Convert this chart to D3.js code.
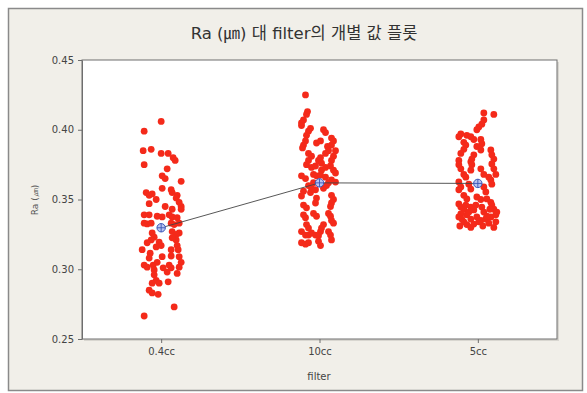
<!DOCTYPE html>
<html><head><meta charset="utf-8">
<script src="https://cdn.jsdelivr.net/npm/d3@7"></script>
<style>body{margin:0;background:#fff;}svg{display:block;}</style>
</head><body>
<script>
const categories = ["0.4cc", "10cc", "5cc"];
const yTicks = [0.25, 0.30, 0.35, 0.40, 0.45];
// [jitter (-1..1 of half spread), Ra value]
const ra04cc = [
[0,0.406],[-0.85,0.399],[-0.9,0.385],[-0.5,0.386],[0,0.383],[0.35,0.383],[0.6,0.380],[0.7,0.378],[-0.85,0.375],[0.3,0.372],
[0.05,0.367],[0.2,0.365],[1.0,0.363],[0.05,0.358],[0.5,0.357],[0.55,0.355],[-0.75,0.355],[-0.6,0.353],[-0.45,0.354],[0.8,0.353],
[0.75,0.351],[0.9,0.348],[1.0,0.345],[-0.25,0.350],[-0.6,0.347],[0.2,0.345],[0.55,0.343],[1.0,0.343],[-0.85,0.339],[-0.6,0.339],
[-0.2,0.338],[0.05,0.3375],[0.4,0.339],[0.55,0.3375],[0.8,0.337],[-0.85,0.333],[-0.7,0.3325],[-0.5,0.333],[0.5,0.333],[0.65,0.332],
[0.9,0.333],[-0.45,0.326],[-0.35,0.323],[-0.5,0.321],[-0.1,0.3195],[0,0.317],[-0.7,0.319],[0.55,0.327],[0.75,0.325],[0.9,0.326],
[0.75,0.321],[0.55,0.3225],[-0.95,0.314],[-0.55,0.3115],[0.05,0.309],[-0.25,0.316],[0.5,0.314],[0.5,0.3095],[0.8,0.317],[0.85,0.314],
[0.9,0.309],[1.0,0.305],[-0.85,0.303],[-0.7,0.3015],[-0.4,0.303],[-0.35,0.2995],[-0.35,0.296],[0.4,0.303],[0.5,0.301],[0.9,0.3015],
[0.8,0.297],[-0.25,0.292],[-0.1,0.290],[-0.45,0.290],[0.35,0.291],[-0.6,0.285],[-0.45,0.283],[-0.15,0.282],[0.65,0.273],[-0.85,0.2665],
[-0.2,0.305],[0.3,0.298],[-0.6,0.308],[0.1,0.301]
];
const ra10cc = [
[-0.7,0.425],[-0.6,0.413],[-0.65,0.411],[-0.8,0.407],[-0.9,0.405],[-0.9,0.403],[-0.45,0.401],[-0.55,0.399],[-0.65,0.396],[0.2,0.400],
[0.3,0.398],[0.6,0.394],[0.7,0.392],[0.6,0.389],[-0.7,0.392],[-0.8,0.389],[-0.85,0.387],[-0.15,0.3905],[0.05,0.392],[0.4,0.388],
[0.45,0.385],[0.3,0.383],[-0.55,0.383],[-0.4,0.381],[0.8,0.385],[0.7,0.381],[0.6,0.378],[0.05,0.380],[-0.05,0.378],[0.1,0.376],
[-0.55,0.378],[-0.65,0.375],[-0.4,0.373],[-0.2,0.374],[0.1,0.371],[0.3,0.373],[0.55,0.374],[0.7,0.371],[0.8,0.369],[-0.3,0.368],
[-0.15,0.367],[0.05,0.3675],[-0.9,0.367],[-0.7,0.365],[0.6,0.364],[0.45,0.362],[0.8,0.3625],[-0.55,0.360],[-0.4,0.358],[-0.2,0.357],
[-0.45,0.355],[0.2,0.358],[0.35,0.360],[-0.8,0.356],[-0.9,0.3525],[-0.15,0.351],[-0.2,0.3475],[0.6,0.353],[0.7,0.350],[0.6,0.3475],
[0.55,0.345],[-0.8,0.346],[-0.65,0.344],[-0.8,0.339],[-0.7,0.337],[-0.3,0.340],[-0.15,0.338],[0.45,0.340],[0.55,0.338],[0.6,0.335],
[0.7,0.333],[-0.65,0.332],[-0.55,0.3295],[0.2,0.332],[0.1,0.3295],[0.05,0.327],[-0.9,0.327],[-0.7,0.3245],[-0.55,0.3245],[-0.4,0.326],
[-0.2,0.3245],[-0.05,0.324],[0.45,0.327],[0.55,0.3245],[0.6,0.321],[-0.9,0.319],[-0.7,0.318],[-0.55,0.319],[-0.05,0.320],[0.05,0.317],
[0.3,0.366],[-0.3,0.362]
];
const ra5cc = [
[0.3,0.412],[0.8,0.411],[0.3,0.407],[0.2,0.404],[0.05,0.402],[-0.05,0.400],[-0.85,0.397],[-0.95,0.395],[-0.55,0.396],[-0.35,0.395],
[-0.2,0.393],[0.15,0.393],[0.2,0.390],[-0.7,0.391],[-0.6,0.389],[-0.7,0.386],[-0.05,0.388],[0.15,0.3855],[0.65,0.3855],[0.7,0.382],
[0.8,0.379],[-0.2,0.382],[-0.3,0.379],[-0.35,0.377],[-0.85,0.383],[-0.95,0.378],[-0.95,0.375],[-0.85,0.372],[0.7,0.3755],[0.8,0.372],
[0.9,0.368],[-0.3,0.375],[-0.35,0.371],[-0.7,0.368],[-0.6,0.366],[0.15,0.372],[0.3,0.368],[0.55,0.366],[0.65,0.364],[-0.95,0.3626],
[-0.85,0.359],[-0.95,0.357],[-0.45,0.361],[-0.35,0.3575],[0.3,0.359],[0.4,0.3554],[0.7,0.361],[-0.7,0.353],[-0.55,0.3504],[-0.05,0.3518],
[0.15,0.350],[-0.95,0.3468],[-0.85,0.3446],[-0.7,0.343],[0.45,0.3504],[0.65,0.348],[0.7,0.346],[0.8,0.343],[-0.35,0.3446],[-0.2,0.3425],
[0.2,0.3446],[0.3,0.341],[-0.85,0.3396],[-0.95,0.3375],[-0.8,0.336],[-0.55,0.339],[-0.35,0.336],[-0.05,0.3375],[0.15,0.335],[0.4,0.336],
[0.65,0.3375],[0.9,0.339],[0.95,0.341],[-0.7,0.334],[-0.55,0.332],[-0.35,0.330],[-0.2,0.3324],[0.8,0.330],
[0.55,0.333],[0.25,0.331],[-0.9,0.331],[0.05,0.334],[0.9,0.334],[-0.45,0.341],[0.6,0.343],[-0.1,0.346],[0.45,0.338],[-0.6,0.346]
];
const seriesValues = [ra04cc, ra10cc, ra5cc];

const W = 587, H = 393;
const svg = d3.select("body").append("svg").attr("width", W).attr("height", H);
const font = "'DejaVu Sans', Verdana, sans-serif";

// outer frame
svg.append("rect").attr("x", 8.5).attr("y", 8.5).attr("width", 574).attr("height", 382)
  .attr("fill", "#f1efe9").attr("stroke", "#8a8a8a").attr("stroke-width", 1.5);

const m = {l: 82, r: 557, t: 60, b: 339};
// plot area
svg.append("rect").attr("x", m.l + 2).attr("y", m.t + 2).attr("width", m.r - m.l).attr("height", m.b - m.t)
  .attr("fill", "#d8d6d0");
svg.append("rect").attr("x", m.l).attr("y", m.t).attr("width", m.r - m.l).attr("height", m.b - m.t)
  .attr("fill", "#ffffff").attr("stroke", "#6e6e6e").attr("stroke-width", 1);

const x = d3.scalePoint().domain(categories).range([m.l, m.r]).padding(0.5);
const y = d3.scaleLinear().domain([0.25, 0.45]).range([m.b, m.t]);
const spread = 20;

// y axis
const yAx = svg.append("g").attr("transform", `translate(${m.l},0)`)
  .call(d3.axisLeft(y).tickValues(yTicks).tickFormat(d3.format(".2f")).tickSize(4).tickSizeOuter(0));
yAx.select(".domain").attr("stroke", "#6e6e6e");
yAx.selectAll("line").attr("stroke", "#6e6e6e");
yAx.selectAll("text").attr("font-family", font).attr("font-size", 10).attr("fill", "#444").attr("dx", "-1");

// x axis
const xAx = svg.append("g").attr("transform", `translate(0,${m.b})`)
  .call(d3.axisBottom(x).tickSize(4).tickSizeOuter(0));
xAx.select(".domain").remove();
xAx.selectAll("line").attr("stroke", "#6e6e6e");
xAx.selectAll("text").attr("font-family", font).attr("font-size", 10).attr("fill", "#444").attr("dy", "0.9em");

// titles
svg.append("text").attr("x", 304).attr("y", 39).attr("text-anchor", "middle")
  .attr("font-family", "'DejaVu Sans', 'Noto Sans CJK KR', sans-serif").attr("font-size", 16.5).attr("fill", "#333")
  .text("Ra (㎛) 대 filter의 개별 값 플롯");
svg.append("text").attr("x", 319).attr("y", 380).attr("text-anchor", "middle")
  .attr("font-family", font).attr("font-size", 10).attr("fill", "#444").text("filter");
svg.append("text").attr("transform", "translate(38,200) rotate(-90)").attr("text-anchor", "middle")
  .attr("font-family", font).attr("font-size", 9).attr("fill", "#555").text("Ra (㎛)");

// points
categories.forEach((c, i) => {
  svg.append("g").selectAll("circle").data(seriesValues[i]).join("circle")
    .attr("cx", d => x(c) + d[0] * spread)
    .attr("cy", d => y(d[1]))
    .attr("r", 3.4)
    .attr("fill", "#f42a1a");
});

// means
const means = categories.map((c, i) => ({c, v: d3.mean(seriesValues[i], d => d[1])}));
svg.append("path").datum(means)
  .attr("d", d3.line().x(d => x(d.c)).y(d => y(d.v)))
  .attr("fill", "none").attr("stroke", "#444").attr("stroke-width", 0.9);
const mg = svg.append("g").selectAll("g").data(means).join("g")
  .attr("transform", d => `translate(${x(d.c)},${y(d.v)})`);
mg.append("circle").attr("r", 4.2).attr("fill", "#b8c4f0").attr("stroke", "#3a55b8").attr("stroke-width", 1);
mg.append("path").attr("d", "M-4.2,0H4.2M0,-4.2V4.2").attr("stroke", "#3a55b8").attr("stroke-width", 0.9);
</script>
</body></html>
